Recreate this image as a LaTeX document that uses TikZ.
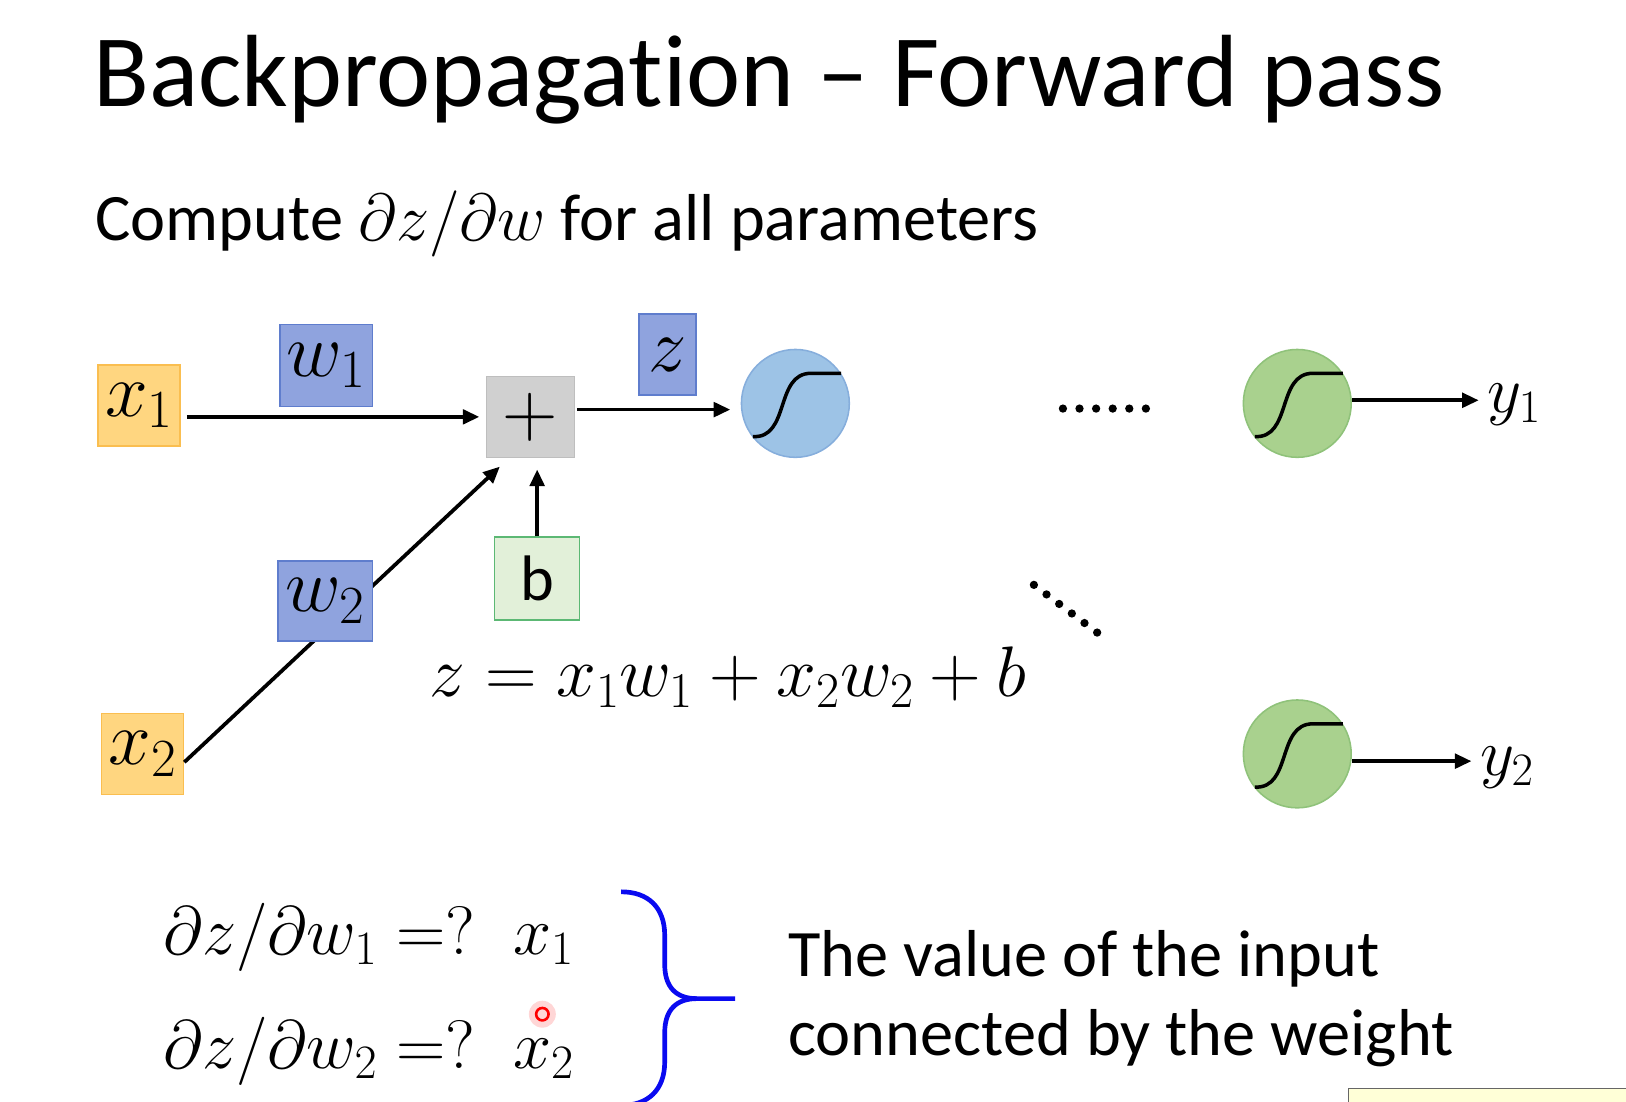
\RequirePackage{fix-cm}
\documentclass[tikz,border=0pt]{standalone}
\usepackage{fontspec}
\setmainfont[Ligatures=CommonOff]{Carlito}
\usetikzlibrary{arrows.meta,calc}
\definecolor{orfill}{RGB}{255,214,128}
\definecolor{ordraw}{RGB}{250,190,80}
\definecolor{blfill}{RGB}{143,163,222}
\definecolor{bldraw}{RGB}{95,125,205}
\definecolor{gyfill}{RGB}{208,208,208}
\definecolor{gydraw}{RGB}{190,190,190}
\definecolor{gbfill}{RGB}{226,240,217}
\definecolor{gbdraw}{RGB}{92,184,116}
\definecolor{cbfill}{RGB}{157,195,230}
\definecolor{cbdraw}{RGB}{134,174,220}
\definecolor{cgfill}{RGB}{169,209,142}
\definecolor{cgdraw}{RGB}{143,194,122}
\definecolor{bracecol}{RGB}{10,10,240}
\definecolor{tipfill}{RGB}{255,255,215}
\tikzset{
  box/.style={draw, line width=1.5pt, inner sep=0pt, font=\fontsize{74}{90}\selectfont},
  inbox/.style={box, fill=orfill, draw=ordraw, minimum width=79pt, minimum height=78pt},
  wbox/.style={box, fill=blfill, draw=bldraw},
  neuron/.style={circle, line width=1.5pt, minimum size=104pt, inner sep=0pt},
  arr/.style={line width=3.6pt, -{Triangle[length=16pt,width=14pt]}},
  sig/.pic={\draw[line width=3.4pt] (-41,32) .. controls (-5,34) and (-20,-29) .. (15,-29) -- (44,-29);},
}
\begin{document}
\begin{tikzpicture}[x=1pt,y=-1pt]
\useasboundingbox (0,0) rectangle (1568,1062);
% title
\node[anchor=base west, inner sep=0pt, font=\fontsize{99}{120}\selectfont] (title) at (90,103) {Backpropagation -- Forward pass};
\node[anchor=base west, inner sep=0pt, font=\fontsize{64}{76}\selectfont] (sub) at (92,232) {Compute $\partial z/\partial w$ for all parameters};
% nodes
\node[inbox] (x1) at (134,391) {$x_1$};
\node[inbox] (x2) at (137.5,727) {$x_2$};
\node[box, fill=gyfill, draw=gydraw, minimum width=85pt, minimum height=78pt] (plus) at (511.5,402) {$+$};
\node[box, fill=gbfill, draw=gbdraw, minimum width=82pt, minimum height=80pt, font=\fontsize{62}{72}\selectfont] (b) at (518,558) {b};
\node[neuron, fill=cbfill, draw=cbdraw] (n1) at (767,389) {};
\pic at (n1) {sig};
\node[neuron, fill=cgfill, draw=cgdraw] (g1) at (1251,389) {};
\pic at (g1) {sig};
\node[neuron, fill=cgfill, draw=cgdraw] (g2) at (1251,727) {};
\pic at (g2) {sig};
% connectors
\coordinate (tip2) at (482,450);
\draw[arr] ([yshift=-8pt]x2.east) -- (tip2);
\draw[arr, shorten <=6pt, shorten >=6pt] (x1.east |- plus.west) -- (plus.west);
\draw[arr, shorten <=2pt, shorten >=10pt] (plus.east |- 0,395) -- (n1.west |- 0,395);
\draw[arr, shorten >=11pt] (b.north) -- (b.north |- plus.south);
% weight boxes on top
\node[wbox, minimum width=89pt, minimum height=79pt] (w1) at (314.5,352.5) {$w_1$};
\node[wbox, minimum width=91pt, minimum height=77pt] (w2) at (313.5,579.5) {$w_2$};
\node[wbox, minimum width=55pt, minimum height=78pt] (z) at (643.5,342) {$z$};
% outputs
\node[anchor=base west, inner sep=0pt, font=\fontsize{64}{76}\selectfont] (y1) at (1434,398) {$y_1$};
\node[anchor=base west, inner sep=0pt, font=\fontsize{64}{76}\selectfont] (y2) at (1427,748) {$y_2$};
\draw[arr, shorten >=8pt] (g1.east |- 0,386) -- (y1.west |- 0,386);
\draw[arr, shorten >=8pt] (g2.east |- 0,734) -- (y2.west |- 0,734);
% dots
\foreach \i in {0,...,5} \fill (1025+\i*16,394) circle (4);
\foreach \i in {0,...,5} \fill (997+\i*12.2,564+\i*9.2) circle (4);
% equation
\node[anchor=base west, inner sep=0pt, font=\fontsize{69}{84}\selectfont] (eq) at (414,672) {$z = x_1w_1 + x_2w_2 + b$};
% bottom
\node[anchor=base west, inner sep=0pt, font=\fontsize{66}{78}\selectfont] (d1) at (157,920) {$\partial z/\partial w_1 =?\;\;x_1$};
\node[anchor=base west, inner sep=0pt, font=\fontsize{66}{78}\selectfont] (d2) at (157,1030) {$\partial z/\partial w_2 =?\;\;x_2$};
\coordinate (bt) at (599,860);
\coordinate (bb) at (599,1066);
\coordinate (btip) at (709,963);
\draw[bracecol, line width=4.5pt] (bt) .. controls (625,860) and (641,875) .. (641,902) -- (641,930)
  .. controls (641,952) and (652,963) .. (672,963) -- (btip);
\draw[bracecol, line width=4.5pt] (bb) .. controls (625,1066) and (641,1051) .. (641,1024) -- (641,996)
  .. controls (641,974) and (652,963) .. (672,963);
\node[anchor=base west, inner sep=0pt, font=\fontsize{64}{72}\selectfont] (t1) at (760,942) {The value of the input};
\node[anchor=base west, inner sep=0pt, font=\fontsize{64}{72}\selectfont] (t2) at (760,1018) {connected by the weight};
% cursor and tooltip remnants
\fill[red!20, opacity=0.8] (523,978) circle (13);
\draw[red, line width=2.5pt] (523,978) circle (6);
\draw[black!60, fill=tipfill, line width=1pt] (1300,1050) rectangle (1570,1064);
\end{tikzpicture}
\end{document}
